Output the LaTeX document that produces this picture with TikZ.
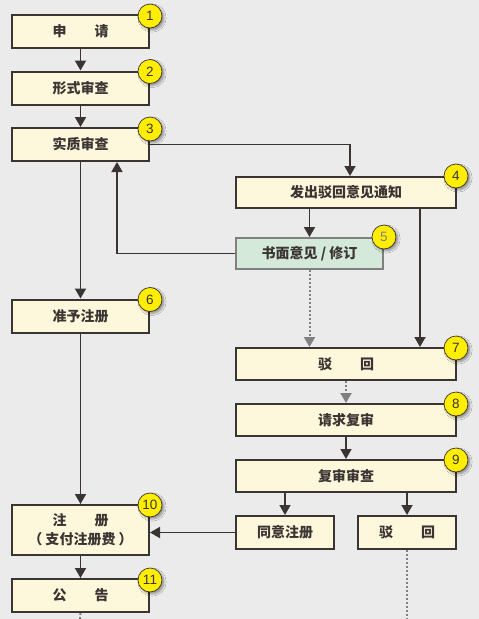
\documentclass[tikz,border=0pt]{standalone}
\usepackage{fontspec}
\setmainfont{Liberation Sans}
\newfontfamily\cjk{Noto Sans CJK SC}
\usepackage{tikz}
\usetikzlibrary{arrows.meta}
\usetikzlibrary{shadows.blur}
\definecolor{bgGray}{HTML}{EBEBEB}
\definecolor{boxCream}{HTML}{FDF8DC}
\definecolor{boxGreen}{HTML}{D5E9DA}
\definecolor{lineDark}{HTML}{3A3433}
\definecolor{dotYellow}{HTML}{FFEE00}

\begin{document}
\begin{tikzpicture}[x=1pt, y=-1pt,
    box/.style={draw=lineDark, line width=2pt, fill=boxCream, minimum height=33pt,
        inner sep=0pt, text=lineDark, font=\cjk\bfseries\fontsize{14}{19}\selectfont},
    numdot/.style={circle, draw=lineDark, line width=0.7pt, fill=dotYellow, minimum size=24pt,
        inner sep=0pt, text=lineDark, font=\fontsize{13.5}{13.5}\selectfont,
        blur shadow={shadow xshift=2pt, shadow yshift=-2pt, shadow blur steps=6}},
    flow/.style={draw=lineDark, line width=1.8pt, -{Triangle[width=11pt,length=10pt]}},
    dots/.style={draw=gray, line width=2pt, dash pattern=on 2pt off 2pt},
    dotflow/.style={dots, -{Triangle[width=11pt,length=10pt]}}]
            \fill[bgGray] (0,0) rectangle (479,619);
            \useasboundingbox (0,0) rectangle (479,619);
            % left column
            \node[box, minimum width=137pt] (apply) at (80.5,31.5) {申　　请};
            \node[box, minimum width=137pt] (formal) at (80.5,88) {形式审查};
            \node[box, minimum width=137pt] (exam) at (80.5,144.5) {实质审查};
            \node[box, minimum width=137pt] (grant) at (80.5,316) {准予注册};
            \node[box, minimum width=137pt, minimum height=50pt, align=center] (reg) at (80.5,530)
                  {注　　册\\（ 支付注册费 ）};
            \node[box, minimum width=137pt] (notice) at (80.5,595.5) {公　　告};
            % right column
            \node[box, minimum width=220pt, minimum height=31pt] (reject) at (346,192.5) {发出驳回意见通知};
            \node[box, minimum width=147pt, minimum height=31pt, fill=boxGreen, draw=gray] (reply) at (309.5,253.5)
                  {书面意见 / 修订};
            \node[box, minimum width=220pt, minimum height=32pt] (refuse) at (346,364) {驳　　回};
            \node[box, minimum width=220pt, minimum height=32pt] (review) at (346,420) {请求复审};
            \node[box, minimum width=220pt, minimum height=32pt] (rexam) at (346,476) {复审审查};
            \node[box, minimum width=98pt] (agree) at (285,532.5) {同意注册};
            \node[box, minimum width=98pt] (final) at (407,532.5) {驳　　回};
            \coordinate (toR) at (350,0);
            \coordinate (backL) at (117,0);
            \coordinate (sideR) at (420,0);
            \coordinate (endL) at (80,619);
            \coordinate (endR) at (407,619);
            % connectors
            \draw[flow] (apply) -- (formal);
            \draw[flow] (formal) -- (exam);
            \draw[flow] (exam.east) -| (reject.north -| toR);
            \draw[flow] (reject.south -| reply.north) -- (reply.north);
            \draw[flow] (reply.west) -| (exam.south -| backL);
            \draw[flow] (reject.south -| sideR) -- (refuse.north -| sideR);
            \draw[dotflow] (reply.south) -- (reply.south |- refuse.north);
            \draw[dotflow] (refuse) -- (review);
            \draw[flow] (review) -- (rexam);
            \draw[flow] (rexam.south -| agree.north) -- (agree.north);
            \draw[flow] (rexam.south -| final.north) -- (final.north);
            \draw[dots] (final.south) -- (endR);
            \draw[flow] (agree.west) -- (agree.west -| reg.east);
            \draw[flow] (exam) -- (grant);
            \draw[flow] (grant) -- (reg);
            \draw[flow] (reg) -- (notice);
            \draw[dots] (notice.south) -- (endL);
            % number marks
            \node[numdot] (m1) at ([yshift=-2pt]apply.north east) {1};
            \node[numdot] (m2) at ([yshift=-1pt]formal.north east) {2};
            \node[numdot] (m3) at ([yshift=-2pt]exam.north east) {3};
            \node[numdot] (m4) at ([xshift=-1pt]reject.north east) {4};
            \node[numdot, text=gray] (m5) at (reply.north east) {5};
            \node[numdot] (m6) at ([yshift=-1pt]grant.north east) {6};
            \node[numdot] (m7) at ([xshift=-1pt,yshift=-1pt]refuse.north east) {7};
            \node[numdot] (m8) at ([xshift=-1pt,yshift=-1pt]review.north east) {8};
            \node[numdot] (m9) at ([xshift=-1pt,yshift=-1pt]rexam.north east) {9};
            \node[numdot] (m10) at ([yshift=-1pt]reg.north east) {10};
            \node[numdot] (m11) at ([yshift=-2pt]notice.north east) {11};
        \end{tikzpicture}
\end{document}
